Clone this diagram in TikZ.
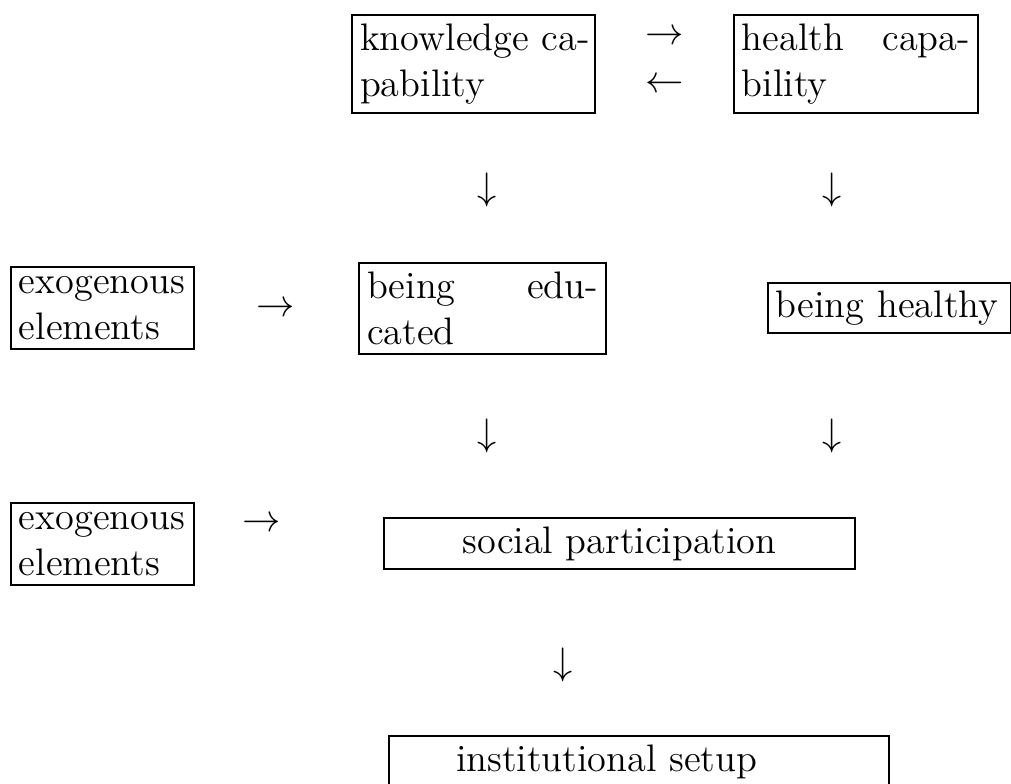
\documentclass[tikz,border=0pt]{standalone}
\usetikzlibrary{positioning}
\begin{document}
\begin{tikzpicture}[x=0.313pt, y=-0.313pt,
  box/.style={draw, line width=0.4pt, inner xsep=2.5pt, inner ysep=0pt, align=left,
    font=\fontsize{12}{14.5}\selectfont},
  cbox/.style={draw, line width=0.4pt, inner xsep=2.5pt, inner ysep=0pt, align=center,
    font=\fontsize{12}{14.5}\selectfont},
  sym/.style={inner sep=0pt, font=\fontsize{12}{14.5}\selectfont}]
\useasboundingbox (0,0) rectangle (1011,783);
% boxes
\node[box, text width=71.0pt, minimum height=30.7pt] (know) at (473.5,64) {\mbox{knowledge ca-}\\pability};
\node[box, text width=71.4pt, minimum height=30.7pt] (hcap) at (856,64) {health\hfill capa-\\bility};
\node[box, text width=52.3pt, minimum height=25.7pt] (exoA) at (102.5,308) {exogenous\\elements};
\node[box, text width=72.3pt, minimum height=28.5pt] (educ) at (482.5,308.5) {being\hfill edu-\\cated};
\node[box, text width=71.1pt, minimum height=15.65pt] (hlth) at (889.5,308) {being healthy};
\node[box, text width=52.3pt, minimum height=25.7pt] (exoB) at (102.5,544) {exogenous\\elements};
\node[cbox, minimum width=147.4pt, minimum height=16pt] (soc) at (619.5,543.5) {social participation};
\node[box, text width=151.5pt, minimum height=16pt] (inst) at (639,761.5) {\hspace*{18.5pt}institutional setup};
% arrow symbols
\node[sym] (r1) at (665,37) {$\rightarrow$};
\node[sym] (l1) at (665,85) {$\leftarrow$};
\node[sym] (d1) at (487,190) {$\downarrow$};
\node[sym] (d2) at (832,190) {$\downarrow$};
\node[sym] (r2) at (276,309) {$\rightarrow$};
\node[sym] (d3) at (487,436) {$\downarrow$};
\node[sym] (d4) at (832,436) {$\downarrow$};
\node[sym] (r3) at (262,524) {$\rightarrow$};
\node[sym] (d5) at (563,665) {$\downarrow$};
\end{tikzpicture}
\end{document}
